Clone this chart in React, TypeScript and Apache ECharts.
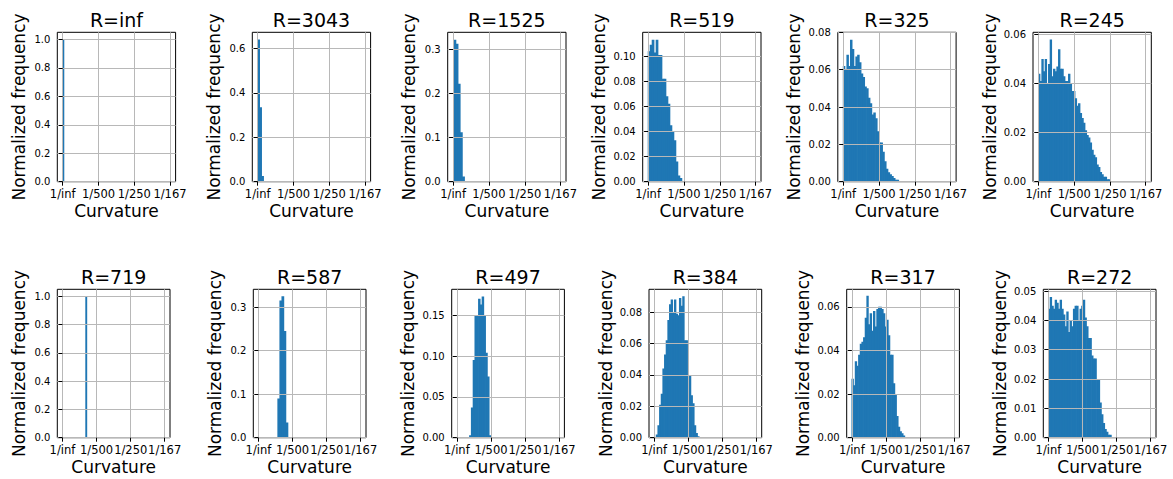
import React, { useEffect, useRef } from 'react';
import * as echarts from 'echarts';

// ---------- data ----------
const titles = ['R=inf', 'R=3043', 'R=1525', 'R=519', 'R=325', 'R=245', 'R=719', 'R=587', 'R=497', 'R=384', 'R=317', 'R=272'];
const xTickValues = [0, 1 / 500, 1 / 250, 1 / 167];
const xTickLabels = ['1/inf', '1/500', '1/250', '1/167'];
const xName = 'Curvature';
const yName = 'Normalized frequency';

const freqRinf = [1.0];
const freqR3043 = [0.64, 0.335, 0.026];
const freqR1525 = [0.322, 0.313, 0.222, 0.112, 0.012];
const freqR519 = [0.104, 0.109, 0.113, 0.103, 0.113, 0.101, 0.101, 0.082, 0.082, 0.068, 0.062, 0.045, 0.040, 0.033, 0.016, 0.005, 0.003];
const freqR325 = [0.062, 0.060, 0.068, 0.062, 0.076, 0.071, 0.062, 0.067, 0.068, 0.064, 0.058, 0.056, 0.051, 0.050, 0.045, 0.042, 0.036, 0.037, 0.034, 0.027, 0.021, 0.021, 0.016, 0.011, 0.007, 0.005, 0.004, 0.003, 0.002, 0.001, 0.001];
const freqR245 = [0.044, 0.041, 0.050, 0.045, 0.050, 0.040, 0.048, 0.058, 0.043, 0.046, 0.045, 0.047, 0.054, 0.046, 0.046, 0.043, 0.041, 0.041, 0.044, 0.040, 0.037, 0.037, 0.034, 0.031, 0.032, 0.028, 0.026, 0.024, 0.021, 0.019, 0.018, 0.016, 0.013, 0.011, 0.010, 0.007, 0.006, 0.004, 0.003, 0.002, 0.002, 0.001, 0.001];
const freqR719 = [1.0];
const freqR587 = [0.09, 0.315, 0.325, 0.245, 0.035];
const freqR497 = [0.003, 0.037, 0.095, 0.150, 0.150, 0.170, 0.163, 0.173, 0.150, 0.104, 0.075, 0.003];
const freqR384 = [0.002, 0.008, 0.021, 0.028, 0.044, 0.053, 0.062, 0.075, 0.085, 0.088, 0.080, 0.088, 0.079, 0.078, 0.089, 0.084, 0.090, 0.062, 0.062, 0.040, 0.040, 0.027, 0.022, 0.008, 0.003, 0.001];
const freqR317 = [0.027, 0.024, 0.035, 0.033, 0.038, 0.043, 0.044, 0.046, 0.055, 0.065, 0.052, 0.057, 0.049, 0.058, 0.051, 0.059, 0.060, 0.060, 0.059, 0.057, 0.051, 0.054, 0.047, 0.038, 0.038, 0.025, 0.020, 0.010, 0.005, 0.003, 0.002, 0.001];
const freqR272 = [0.044, 0.048, 0.045, 0.044, 0.047, 0.046, 0.044, 0.047, 0.044, 0.042, 0.038, 0.043, 0.036, 0.040, 0.038, 0.044, 0.045, 0.045, 0.040, 0.044, 0.045, 0.047, 0.041, 0.038, 0.034, 0.034, 0.028, 0.027, 0.027, 0.020, 0.020, 0.012, 0.008, 0.005, 0.003, 0.002, 0.001, 0.001];

const freqs = [freqRinf, freqR3043, freqR1525, freqR519, freqR325, freqR245, freqR719, freqR587, freqR497, freqR384, freqR317, freqR272];
const binStart = [0, 0, 0.00004, 0, 0, 0, 0.00136, 0.00113, 0.00074, 0.000117, 0, 0];
const binWidth = [0.00007, 0.00011, 0.00012, 0.000111, 0.0001, 0.000093, 0.00007, 0.00012, 0.000105, 0.000097, 0.000097, 0.000097];

const yMax = [1.05, 0.672, 0.339, 0.119, 0.08, 0.0609, 1.05, 0.341, 0.1817, 0.0945, 0.068, 0.0506];
const yTicks = [
  [0, 0.2, 0.4, 0.6, 0.8, 1.0],
  [0, 0.2, 0.4, 0.6],
  [0, 0.1, 0.2, 0.3],
  [0, 0.02, 0.04, 0.06, 0.08, 0.10],
  [0, 0.02, 0.04, 0.06, 0.08],
  [0, 0.02, 0.04, 0.06],
  [0, 0.2, 0.4, 0.6, 0.8, 1.0],
  [0, 0.1, 0.2, 0.3],
  [0, 0.05, 0.10, 0.15],
  [0, 0.02, 0.04, 0.06, 0.08],
  [0, 0.02, 0.04, 0.06],
  [0, 0.01, 0.02, 0.03, 0.04, 0.05],
];
const yDecimals = [1, 1, 1, 2, 2, 2, 1, 1, 2, 2, 2, 2];

// ---------- layout ----------
const X_MIN = -0.0003;
const X_MAX = 0.0063;
const gridLeft = [57.3, 252.3, 447.7, 642.7, 837.8, 1033, 57.3, 253.3, 451.7, 649, 846.7, 1043.3];
const gridTop = [32.3, 32.3, 32.3, 32.3, 32.3, 32.3, 289.3, 289.3, 289.3, 289.3, 289.3, 289.3];
const gridWidth = [118.3, 118.3, 118.3, 118.3, 118.3, 118.3, 112.7, 112.7, 112.7, 112.7, 112.7, 112.7];
const gridHeight = [149.4, 149.4, 149.4, 149.4, 149.4, 149.4, 148.4, 148.4, 148.4, 148.4, 148.4, 148.4];

const FONT = 'DejaVu Sans';
const BAR_COLOR = '#1f77b4';
const GRID_COLOR = '#b8b8b8';

function buildOption() {
  const grids: any[] = [];
  const xAxes: any[] = [];
  const yAxes: any[] = [];
  const series: any[] = [];
  const graphics: any[] = [];

  for (let i = 0; i < titles.length; i++) {
    grids.push({
      left: gridLeft[i],
      top: gridTop[i],
      width: gridWidth[i],
      height: gridHeight[i],
      show: true,
      borderColor: '#000',
      borderWidth: 1,
      backgroundColor: 'transparent',
      containLabel: false,
      outerBoundsMode: 'none',
    });
    xAxes.push({
      type: 'value',
      gridIndex: i,
      min: X_MIN,
      max: X_MAX,
      z: 5,
      name: xName,
      nameLocation: 'middle',
      nameGap: 21,
      nameTextStyle: { fontSize: 17, color: '#000', fontFamily: FONT },
      axisLine: { show: false },
      axisTick: { show: true, inside: false, length: 4, customValues: xTickValues, lineStyle: { color: '#000', width: 1 } },
      axisLabel: {
        show: true,
        customValues: xTickValues,
        margin: 6,
        fontSize: 11.5,
        color: '#000',
        fontFamily: FONT,
        hideOverlap: false,
        formatter: (v: number) => {
          let best = 0;
          for (let k = 1; k < xTickValues.length; k++) {
            if (Math.abs(xTickValues[k] - v) < Math.abs(xTickValues[best] - v)) best = k;
          }
          return xTickLabels[best];
        },
      },
      splitLine: { show: true, lineStyle: { color: GRID_COLOR, width: 1 } },
    });
    const dec = yDecimals[i];
    yAxes.push({
      type: 'value',
      gridIndex: i,
      min: 0,
      max: yMax[i],
      z: 5,
      name: yName,
      nameLocation: 'middle',
      nameGap: dec === 1 ? 30 : 35,
      nameTextStyle: { fontSize: 17, color: '#000', fontFamily: FONT },
      axisLine: { show: false },
      axisTick: { show: true, inside: false, length: 4, customValues: yTicks[i], lineStyle: { color: '#000', width: 1 } },
      axisLabel: {
        show: true,
        customValues: yTicks[i],
        margin: 7,
        fontSize: 10,
        color: '#000',
        fontFamily: FONT,
        formatter: (v: number) => v.toFixed(dec),
      },
      splitLine: { show: true, lineStyle: { color: GRID_COLOR, width: 1 } },
    });
    const start = binStart[i];
    const w = binWidth[i];
    const data = freqs[i].map((h, k) => [start + k * w, start + (k + 1) * w, h]);
    series.push({
      type: 'custom',
      xAxisIndex: i,
      yAxisIndex: i,
      z: 1,
      clip: true,
      dimensions: ['x0', 'x1', 'freq'],
      encode: { x: [0, 1], y: 2 },
      data,
      renderItem: (_params: any, api: any) => {
        const a = api.coord([api.value(0), api.value(2)]);
        const b = api.coord([api.value(1), 0]);
        // slight overlap so neighbouring bins show no white seams
        return {
          type: 'rect',
          shape: { x: a[0] - 0.35, y: a[1], width: Math.max(b[0] - a[0], 1) + 0.7, height: b[1] - a[1] },
          style: { fill: BAR_COLOR, stroke: null, lineWidth: 0 },
        };
      },
    });
    graphics.push({
      type: 'text',
      x: gridLeft[i] + gridWidth[i] / 2,
      y: gridTop[i] - 2.5,
      z: 10,
      style: {
        text: titles[i],
        fontSize: 19,
        fontFamily: FONT,
        fill: '#000',
        align: 'center',
        verticalAlign: 'bottom',
        textAlign: 'center',
        textVerticalAlign: 'bottom',
      },
    });
  }

  return {
    animation: false,
    backgroundColor: '#fff',
    grid: grids,
    xAxis: xAxes,
    yAxis: yAxes,
    series,
    graphic: graphics,
  };
}

export default function App() {
  const ref = useRef<HTMLDivElement>(null);
  useEffect(() => {
    if (!ref.current) return;
    const chart = echarts.init(ref.current, undefined, { renderer: 'svg' });
    chart.setOption(buildOption() as any);
    return () => {
      chart.dispose();
    };
  }, []);
  return (
    <div
      ref={ref}
      style={{ position: 'fixed', left: 0, top: 0, width: 1173, height: 479, background: '#fff' }}
    />
  );
}
